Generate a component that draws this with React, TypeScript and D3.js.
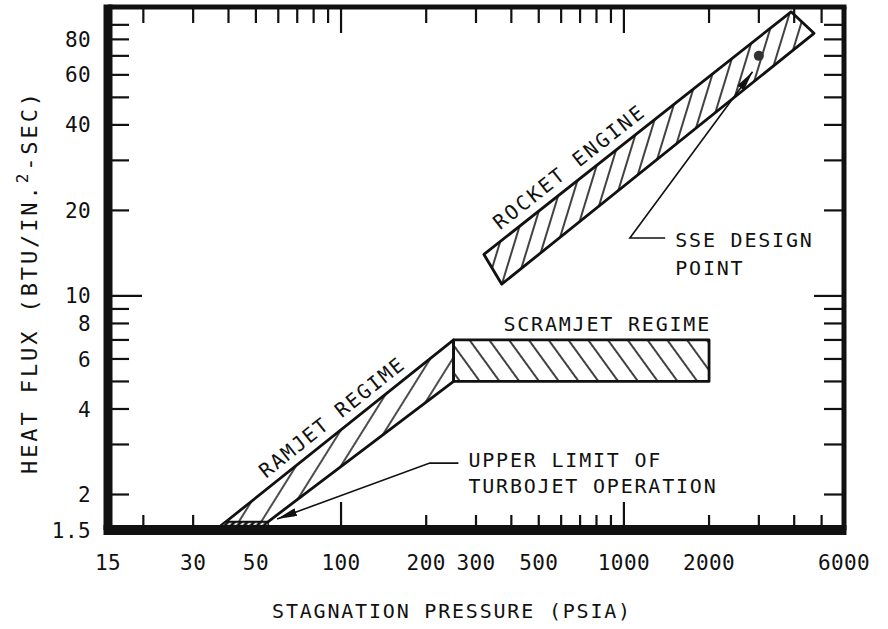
import React from "react";
import * as d3 from "d3";

// tick values and labels
const xTicksTop = [20, 30, 40, 50, 60, 70, 80, 90, 100, 200, 300, 400, 500, 600, 700, 800, 900, 1000, 2000, 3000, 4000, 5000];
const xTicksBottom = [20, 30, 100, 200, 300, 400, 500, 600, 700, 800, 900, 1000, 2000, 3000, 4000, 5000];
const xMajor = [100, 1000];
const yTicks = [2, 3, 4, 5, 6, 7, 8, 9, 10, 20, 30, 40, 50, 60, 70, 80, 90];
const yMajor = [10];
const xLabels = [15, 30, 50, 100, 200, 300, 500, 1000, 2000, 6000];
const yLabels = [1.5, 2, 4, 6, 8, 10, 20, 40, 60, 80];

// regimes: [pressure psia, heat flux]
const rocketBand = [[320, 14], [3900, 100], [4700, 84], [370, 11]];
const scramjetBand = [[250, 5], [250, 7], [2000, 7], [2000, 5]];
const ramjetBand = [[36, 1.5], [250, 7], [250, 5], [55, 1.6], [39, 1.6]];
const turbojetStrip = [[36, 1.5], [39, 1.6], [55, 1.6], [56, 1.5]];
const designPoint = [3000, 70];
const sseLeader = [[1400, 16], [1050, 16], [2850, 61.5]];
const turboLeader = [[260, 2.58], [206, 2.58], [59.4, 1.64]];

const W = 888, H = 629;
const FONT = "'DejaVu Sans Mono', monospace";

const x = d3.scaleLog().domain([15, 6000]).range([108, 844]);
const y = d3.scaleLog().domain([1.5, 104]).range([530, 7]);

const poly = (pts: number[][]) =>
  pts.map((p) => `${x(p[0])},${y(p[1])}`).join(" ");

// place text along an edge of a band at fraction t, offset above it
function edgeLabel(a: number[], b: number[], t: number, off: number) {
  const x0 = x(a[0]), y0 = y(a[1]), x1 = x(b[0]), y1 = y(b[1]);
  const dx = x1 - x0, dy = y1 - y0;
  const len = Math.hypot(dx, dy);
  const ux = dx / len, uy = dy / len;
  const px = x0 + dx * t + uy * off;
  const py = y0 + dy * t - ux * off;
  const ang = (Math.atan2(dy, dx) * 180) / Math.PI;
  return { px, py, ang };
}

const App = () => {
  const rocketLbl = edgeLabel(rocketBand[0], rocketBand[1], 0.31, 9);
  const ramjetLbl = edgeLabel(ramjetBand[0], ramjetBand[1], 0.53, 8.5);
  const fmt = (d: number) => String(d);

  return (
    <svg width={W} height={H} style={{ position: "absolute", left: 0, top: 0, background: "#fff" }}>
      <defs>
        <pattern id="hRocket" patternUnits="userSpaceOnUse" width={14} height={40} patternTransform="rotate(17)">
          <line x1={3} y1={0} x2={3} y2={40} stroke="#111" strokeWidth={1.6} />
        </pattern>
        <pattern id="hRam" patternUnits="userSpaceOnUse" width={19} height={40} patternTransform="rotate(32)">
          <line x1={4} y1={0} x2={4} y2={40} stroke="#111" strokeWidth={1.5} />
        </pattern>
        <pattern id="hScram" patternUnits="userSpaceOnUse" width={16} height={40} patternTransform="rotate(-36)">
          <line x1={4} y1={0} x2={4} y2={40} stroke="#111" strokeWidth={1.6} />
        </pattern>
        <pattern id="hTurbo" patternUnits="userSpaceOnUse" width={5} height={20} patternTransform="rotate(40)">
          <rect x={0} y={0} width={5} height={20} fill="#111" />
          <line x1={2.5} y1={0} x2={2.5} y2={20} stroke="#fff" strokeWidth={2} />
        </pattern>
        <marker id="arrow" viewBox="0 0 20 8" refX={20} refY={4} markerWidth={20} markerHeight={8}
          markerUnits="userSpaceOnUse" orient="auto">
          <path d="M0,0 L20,4 L0,8 Z" fill="#111" />
        </marker>
      </defs>

      {/* regimes */}
      <polygon points={poly(ramjetBand)} fill="url(#hRam)" stroke="#111" strokeWidth={2.8} strokeLinejoin="round" />
      <polygon points={poly(scramjetBand)} fill="url(#hScram)" stroke="#111" strokeWidth={2.8} strokeLinejoin="round" />
      <polygon points={poly(rocketBand)} fill="url(#hRocket)" stroke="#111" strokeWidth={2.8} strokeLinejoin="round" />
      <polygon points={poly(turbojetStrip)} fill="url(#hTurbo)" stroke="#111" strokeWidth={1.5} />

      <circle cx={x(designPoint[0])} cy={y(designPoint[1])} r={5} fill="#333" />

      {/* leaders */}
      <polyline points={poly(sseLeader)} fill="none" stroke="#111" strokeWidth={1.6} markerEnd="url(#arrow)" />
      <polyline points={poly(turboLeader)} fill="none" stroke="#111" strokeWidth={1.6} markerEnd="url(#arrow)" />

      {/* frame */}
      <g stroke="#111">
        <line x1={x(15)} y1={y(104)} x2={x(6000) + 2.5} y2={y(104)} strokeWidth={5} />
        <line x1={x(6000)} y1={y(104)} x2={x(6000)} y2={y(1.5)} strokeWidth={5} />
        <line x1={x(15)} y1={y(104) - 2.5} x2={x(15)} y2={y(1.5)} strokeWidth={9} />
        <line x1={x(15) - 4.5} y1={y(1.5)} x2={x(6000) + 2.5} y2={y(1.5)} strokeWidth={10} />
      </g>

      {/* ticks */}
      <g stroke="#111" strokeWidth={2.2}>
        {xTicksTop.map((d) => (
          <line key={"t" + d} x1={x(d)} x2={x(d)} y1={y(104)} y2={y(104) + (xMajor.includes(d) ? 26 : 16)} />
        ))}
        {xTicksBottom.map((d) => (
          <line key={"b" + d} x1={x(d)} x2={x(d)} y1={y(1.5)} y2={y(1.5) - (xMajor.includes(d) ? 28 : 15)} />
        ))}
        {yTicks.map((d) => (
          <line key={"l" + d} x1={x(15)} x2={x(15) + (yMajor.includes(d) ? 34 : 21)} y1={y(d)} y2={y(d)} />
        ))}
        {yTicks.map((d) => (
          <line key={"r" + d} x1={x(6000)} x2={x(6000) - (yMajor.includes(d) ? 30 : 20)} y1={y(d)} y2={y(d)} />
        ))}
      </g>

      {/* tick labels */}
      <g fontFamily={FONT} fontSize={21} fill="#111">
        {xLabels.map((d) => (
          <text key={"xl" + d} x={x(d)} y={570} textAnchor="middle" letterSpacing={0.4}>{fmt(d)}</text>
        ))}
        {yLabels.map((d) => (
          <text key={"yl" + d} x={91} y={y(d)} dy="0.36em" textAnchor="end" letterSpacing={0.4}>{fmt(d)}</text>
        ))}
      </g>

      {/* axis titles */}
      <text x={452} y={618} textAnchor="middle" fontFamily={FONT} fontSize={20} letterSpacing={1.8} fill="#111">
        STAGNATION PRESSURE (PSIA)
      </text>
      <text transform={`translate(37,282) rotate(-90)`} textAnchor="middle" fontFamily={FONT} fontSize={22}
        letterSpacing={2.9} fill="#111">
        HEAT FLUX (BTU/IN.<tspan dy={-9} fontSize={16}>2</tspan><tspan dy={9}>-SEC)</tspan>
      </text>

      {/* region labels */}
      <g fontFamily={FONT} fontSize={20} fill="#111" letterSpacing={1.8}>
        <text transform={`translate(${rocketLbl.px},${rocketLbl.py}) rotate(${rocketLbl.ang})`} textAnchor="middle"
          letterSpacing={2.4}>ROCKET ENGINE</text>
        <text transform={`translate(${ramjetLbl.px},${ramjetLbl.py}) rotate(${ramjetLbl.ang})`} textAnchor="middle">
          RAMJET REGIME</text>
        <text x={x(2000) + 2} y={y(7) - 9} textAnchor="end">SCRAMJET REGIME</text>
        <text x={x(sseLeader[0][0]) + 10} y={y(sseLeader[0][1]) + 9}>SSE DESIGN</text>
        <text x={x(sseLeader[0][0]) + 10} y={y(sseLeader[0][1]) + 37}>POINT</text>
        <text x={x(turboLeader[0][0]) + 10} y={y(turboLeader[0][1]) + 4}>UPPER LIMIT OF</text>
        <text x={x(turboLeader[0][0]) + 10} y={y(turboLeader[0][1]) + 30}>TURBOJET OPERATION</text>
      </g>
    </svg>
  );
};

export default App;
